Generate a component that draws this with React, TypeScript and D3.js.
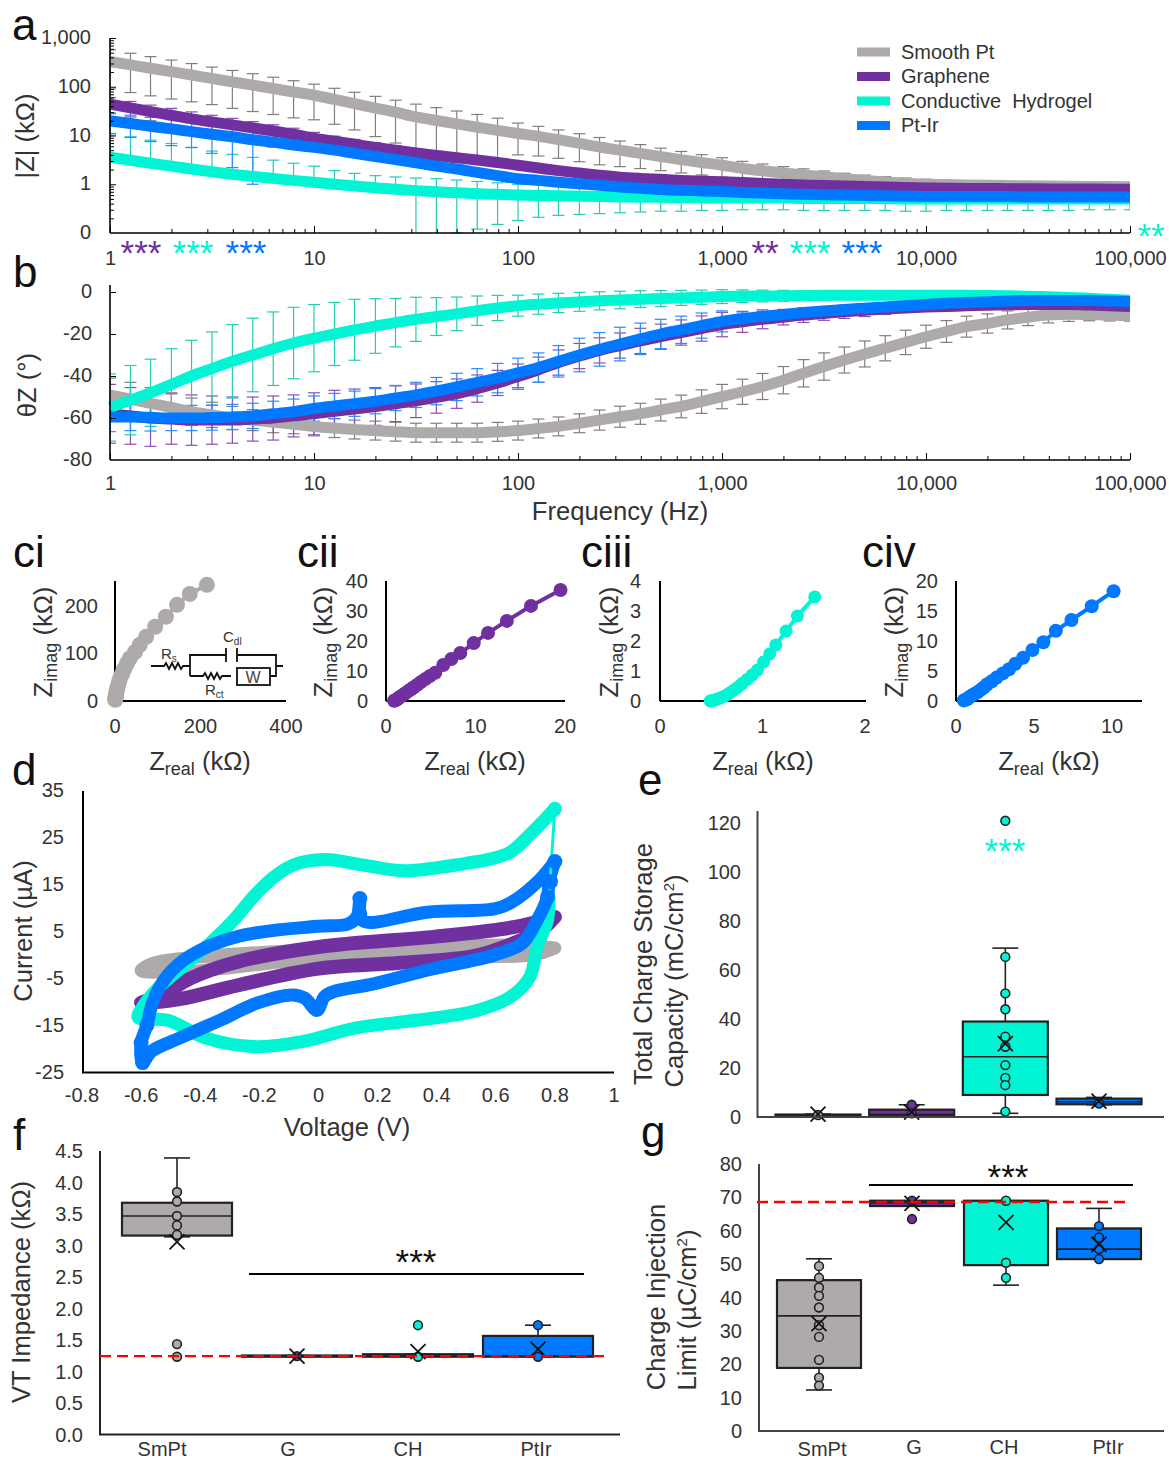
import { useEffect, useRef } from 'react';
import * as d3 from 'd3';

const GRAY = '#aeaaaa';
const PURPLE = '#7030a0';
const TEAL = '#00f5d4';
const BLUE = '#0078ff';
const TEXT = '#333333';
const FONT = "'Liberation Sans', Arial, sans-serif";
const TITLE = 25.6;

const LEGEND = ['Smooth Pt', 'Graphene', 'Conductive  Hydrogel', 'Pt-Ir'];
const CATS = ['SmPt', 'G', 'CH', 'PtIr'];
const COLORS = [GRAY, PURPLE, TEAL, BLUE];
const ERR_COLORS = ['#7f7f7f', '#8a4fb5', '#22cdb6', '#2a8cff'];

// frequency sweep, 10 points per decade
const FREQ = [
    1, 1.26, 1.58, 2, 2.51, 3.16, 3.98, 5.01, 6.31, 7.94, 10,
    12.6, 15.8, 20, 25.1, 31.6, 39.8, 50.1, 63.1, 79.4, 100,
    126, 158, 200, 251, 316, 398, 501, 631, 794, 1000,
    1260, 1580, 2000, 2510, 3160, 3980, 5010, 6310, 7940, 10000,
    12600, 15800, 20000, 25100, 31600, 39800, 50100, 63100, 79400, 100000,
];

// panel a: |Z| mean and SD in kOhm
const zGray = [
    330, 281, 240, 204, 174, 148, 126, 108, 92, 78, 67,
    55, 45, 36.5, 30, 24, 20.3, 17.3, 14.8, 12.7, 11,
    9.6, 8.2, 6.9, 5.8, 5, 4.3, 3.7, 3.2, 2.8, 2.45,
    2.1, 1.9, 1.7, 1.55, 1.42, 1.3, 1.2, 1.12, 1.05, 1,
    0.98, 0.96, 0.95, 0.94, 0.93, 0.92, 0.91, 0.9, 0.9, 0.89,
];
const zGraySd = [
    240, 205, 175, 148, 125, 105, 90, 77, 65, 55, 46,
    38, 32, 27, 23, 20, 17, 14.5, 12.2, 10, 7,
    5.8, 4.8, 4, 3.3, 2.7, 2.2, 1.8, 1.5, 1.25, 1.05,
    0.85, 0.7, 0.6, 0.52, 0.45, 0.38, 0.34, 0.31, 0.29, 0.27,
    0.24, 0.22, 0.2, 0.18, 0.16, 0.14, 0.12, 0.1, 0.08, 0.07,
];
const zPurple = [
    44, 37, 31, 26, 22, 19, 16.5, 14.3, 12.4, 10.6, 8.8,
    7.6, 6.6, 5.7, 5, 4.4, 3.9, 3.5, 3.15, 2.8, 2.45,
    2.15, 1.9, 1.7, 1.53, 1.4, 1.32, 1.26, 1.2, 1.16, 1.12,
    1.08, 1.04, 1, 0.97, 0.94, 0.92, 0.9, 0.88, 0.86, 0.84,
    0.83, 0.82, 0.82, 0.81, 0.81, 0.8, 0.8, 0.8, 0.79, 0.79,
];
const zPurpleSd = [
    16, 13, 11, 10, 8.5, 7, 6, 5, 4.2, 3.5, 2.8,
    2.1, 1.7, 1.4, 1.2, 1, 0.85, 0.7, 0.6, 0.5, 0.42,
    0.35, 0.3, 0.25, 0.2, 0.16, 0.13, 0.11, 0.09, 0.07, 0.06,
    0.05, 0.05, 0.05, 0.05, 0.05, 0.05, 0.05, 0.05, 0.05, 0.05,
    0.05, 0.05, 0.05, 0.05, 0.05, 0.05, 0.05, 0.05, 0.05, 0.05,
];
const zTeal = [
    3.6, 3.1, 2.7, 2.35, 2.05, 1.8, 1.6, 1.45, 1.32, 1.2, 1.1,
    1, 0.92, 0.85, 0.79, 0.74, 0.7, 0.67, 0.64, 0.62, 0.6,
    0.59, 0.58, 0.57, 0.56, 0.55, 0.54, 0.54, 0.53, 0.53, 0.52,
    0.52, 0.52, 0.52, 0.51, 0.51, 0.51, 0.51, 0.51, 0.5, 0.5,
    0.5, 0.5, 0.5, 0.5, 0.5, 0.5, 0.5, 0.5, 0.5, 0.5,
];
const zTealSd = [
    6.6, 6.3, 5.3, 4.5, 3.6, 3, 2.5, 2.1, 1.8, 1.5, 1.25,
    0.9, 0.75, 0.65, 0.62, 0.6, 0.6, 0.55, 0.5, 0.45, 0.4,
    0.38, 0.35, 0.33, 0.31, 0.29, 0.27, 0.26, 0.25, 0.24, 0.23,
    0.22, 0.22, 0.22, 0.22, 0.22, 0.22, 0.22, 0.22, 0.22, 0.22,
    0.21, 0.21, 0.21, 0.21, 0.21, 0.21, 0.21, 0.2, 0.2, 0.2,
];
// teal lower bars: none drawn below 31 Hz (0 = no bar)
const zTealSdLow = [
    0, 0, 0, 0, 0, 0, 0, 0, 0, 0, 0,
    0, 0, 0, 0, 0.66, 0.66, 0.57, 0.52, 0.47, 0.42,
    0.38, 0.35, 0.33, 0.31, 0.29, 0.27, 0.26, 0.25, 0.24, 0.23,
    0.22, 0.22, 0.22, 0.22, 0.22, 0.22, 0.22, 0.22, 0.22, 0.22,
    0.21, 0.21, 0.21, 0.21, 0.21, 0.21, 0.21, 0.2, 0.2, 0.2,
];
const zBlue = [
    20, 17.6, 15.5, 13.7, 12, 10.6, 9.4, 8.2, 7.3, 6.4, 5.7,
    5, 4.3, 3.7, 3.2, 2.75, 2.35, 2.05, 1.75, 1.5, 1.3,
    1.2, 1.1, 1.02, 0.95, 0.88, 0.83, 0.78, 0.75, 0.73, 0.71,
    0.68, 0.66, 0.64, 0.62, 0.61, 0.6, 0.59, 0.58, 0.57, 0.56,
    0.56, 0.56, 0.56, 0.56, 0.55, 0.55, 0.55, 0.55, 0.55, 0.55,
];
const zBlueSd = [
    9, 8.5, 8, 7.5, 6.3, 6.3, 7.2, 7.2, 1.5, 1.2, 1,
    0.8, 0.7, 0.6, 0.5, 0.4, 0.35, 0.3, 0.25, 0.2, 0.17,
    0.14, 0.12, 0.1, 0.08, 0.07, 0.06, 0.05, 0.05, 0.04, 0.04,
    0.03, 0.03, 0.03, 0.03, 0.03, 0.03, 0.03, 0.03, 0.03, 0.03,
    0.03, 0.03, 0.03, 0.03, 0.03, 0.03, 0.03, 0.03, 0.03, 0.03,
];

// panel b: phase mean and SD in degrees
const phGray = [
    -49, -51, -53, -55, -57, -58.5, -60, -61, -62, -63, -64,
    -64.8, -65.5, -66, -66.5, -67, -67, -67, -67, -66.6, -66,
    -65, -64, -62.5, -61, -59.4, -58, -56.2, -54.5, -52.2, -49.8,
    -47.5, -45, -42, -38.7, -35.5, -32.4, -29.5, -26.8, -24, -21.3,
    -18.8, -16.5, -15, -13.3, -12, -11, -10.6, -10.7, -11, -11.4,
];
const phGraySd = [
    8, 8, 7.5, 7, 6.5, 6, 5.5, 5, 5, 4.5, 4.5,
    4.5, 4.5, 4.5, 4.5, 4.5, 4.5, 4.5, 4.5, 4.5, 4.5,
    4.5, 4.5, 4.5, 4.8, 5, 5, 5.2, 5.4, 5.6, 5.8,
    6, 6.2, 6.5, 6.5, 6.5, 6.2, 6.2, 6, 5.8, 5.5,
    5.2, 5, 4.6, 4.3, 4, 3.7, 3.4, 3, 2.8, 2.5,
];
const phPurple = [
    -58, -59, -60, -60.5, -61, -61, -61, -60.5, -60, -59, -58,
    -56.8, -55.7, -54.5, -53.2, -51.8, -50.2, -48.4, -46, -43.3, -40.3,
    -37, -33.6, -30.5, -27.8, -25.5, -23.3, -21.3, -19.3, -17.4, -15.5,
    -14.2, -13, -12, -11, -10.2, -9.4, -8.7, -8.1, -7.6, -7.2,
    -6.9, -6.6, -6.3, -6.1, -6, -6, -6, -6.2, -6.5, -6.9,
];
const phPurpleSd = [
    14, 13.5, 13.5, 12, 12, 11.5, 11, 10.5, 10.5, 10, 10,
    10, 9.5, 9, 8.5, 8, 7.5, 7, 6.5, 6, 6,
    6, 6, 6, 6, 6, 6, 6, 6, 6, 5.8,
    5, 4.5, 3.7, 3.5, 3.3, 3.2, 3, 2.6, 2.2, 2,
    1.5, 1.5, 1.5, 1.5, 1.5, 1.5, 1.5, 1.5, 1.5, 1.5,
];
const phTeal = [
    -55, -51.5, -48, -44, -40, -36.5, -33, -30, -27, -24.3, -22,
    -20, -18, -16.2, -14.6, -13, -11.7, -10.4, -8.9, -7.6, -6.5,
    -5.8, -5.2, -4.7, -4.2, -3.8, -3.4, -3.1, -2.8, -2.5, -2.2,
    -2, -1.9, -1.8, -1.7, -1.6, -1.5, -1.5, -1.5, -1.5, -1.5,
    -1.5, -1.6, -1.7, -1.8, -2, -2.3, -2.6, -3, -3.5, -4,
];
const phTealSd = [
    16, 16.5, 16, 17, 17, 17.5, 17.5, 17.5, 17.5, 17, 16,
    15, 14.5, 13, 11.5, 10.5, 9, 8, 7, 6, 5,
    4.8, 4.6, 4.5, 4.3, 4.2, 4, 3.8, 3.6, 3.4, 3.3,
    3, 2.8, 2.6, 2.4, 2.2, 2, 1.8, 1.6, 1.5, 1.4,
    1, 1, 1, 1, 1, 1, 1, 1, 1, 1,
];
const phBlue = [
    -59.5, -59.5, -59.7, -60, -60, -59.8, -59.5, -59, -58, -57, -55.5,
    -54.3, -53.2, -52, -50.5, -49, -47.2, -45.2, -43, -41, -38.5,
    -36, -33, -30, -27.3, -24.8, -22.3, -20, -18, -16, -14,
    -12.7, -11.6, -10.7, -9.8, -9, -8.3, -7.7, -7.1, -6.5, -5.9,
    -5.4, -5, -4.6, -4.3, -4.1, -4, -4, -4.1, -4.3, -4.5,
];
const phBlueSd = [
    7, 6.5, 6.5, 6, 6, 6, 6, 6, 6, 6, 6,
    6, 6, 6, 6, 6, 6.5, 6.5, 6.5, 7, 7,
    7, 7.5, 8, 8, 8, 7.5, 7, 6.5, 6, 5,
    2.7, 2.4, 2.1, 1.9, 1.7, 1.5, 1.3, 1.2, 1.1, 1,
    1, 1, 1, 1, 1, 1, 1, 1, 1, 1,
];

// panels c: Nyquist [Zreal, Zimag] in kOhm
const nyqGray = [
    [215, 244], [175, 225], [145, 202], [119, 177], [94, 156], [73, 135], [58, 118], [47, 103], [35, 90],
    [28, 79], [22, 68], [17, 58], [13, 50], [10, 42], [8, 35], [6, 29], [4.6, 24], [3.5, 19], [2.7, 15],
    [2, 12], [1.5, 9], [1, 6], [0.8, 4], [0.5, 2.5],
];
const nyqPurple = [
    [19.5, 37], [16.2, 31.7], [13.5, 26.7], [11.4, 22.7], [9.8, 19.3], [8.3, 16], [7.3, 14], [6.4, 12], [5.5, 9.4],
    [4.9, 8.3], [4.4, 7.3], [3.9, 6.3], [3.5, 5.4], [3.1, 4.6], [2.8, 3.9], [2.5, 3.3], [2.2, 2.7], [2, 2.2],
    [1.8, 1.8], [1.6, 1.4], [1.4, 1], [1.3, 0.7], [1.2, 0.5], [1.1, 0.3], [1, 0.2], [0.9, 0.1],
];
const nyqTeal = [
    [1.51, 3.47], [1.34, 2.83], [1.23, 2.33], [1.13, 1.87], [1.07, 1.57], [1.01, 1.3], [0.95, 1.03], [0.9, 0.87],
    [0.85, 0.72], [0.8, 0.58], [0.76, 0.46], [0.72, 0.36], [0.68, 0.27], [0.65, 0.2], [0.62, 0.15], [0.59, 0.1],
    [0.56, 0.07], [0.54, 0.04], [0.52, 0.02], [0.5, 0.01], [0.49, 0],
];
const nyqBlue = [
    [10.1, 18.3], [8.7, 15.8], [7.4, 13.5], [6.4, 11.7], [5.6, 9.8], [4.9, 8.5], [4.3, 7.2], [3.8, 6.2], [3.4, 5.3],
    [3, 4.6], [2.6, 3.9], [2.3, 3.3], [2, 2.8], [1.8, 2.3], [1.6, 1.9], [1.4, 1.5], [1.2, 1.2], [1, 0.9],
    [0.9, 0.7], [0.8, 0.5], [0.7, 0.3], [0.6, 0.2], [0.5, 0.1],
];

// panel d: CV loops [V, uA]
const cvGray = [
    [0.8, 1.4], [0.66, 2], [0.3, 1.5], [0, 1], [-0.4, -0.5], [-0.55, -1.7], [-0.6, -3.4], [-0.47, -3.7],
    [-0.27, -2.6], [0, -0.8], [0.27, -0.5], [0.53, -0.5], [0.73, 0], [0.8, 1.4],
];
const cvPurple = [
    [0.8, 8], [0.66, 5.8], [0.395, 3.8], [0, 1.6], [-0.27, -1.5], [-0.43, -5], [-0.54, -9], [-0.6, -10.3],
    [-0.47, -9.5], [-0.27, -6.5], [0, -3], [0.27, -1.8], [0.53, -0.3], [0.66, 2.4], [0.75, 5], [0.8, 8],
];
const cvTeal = [
    [0.8, 31], [0.77, 29], [0.715, 25.5], [0.65, 21.8], [0.58, 20.3], [0.5, 19.4], [0.29, 17.8], [0.155, 19], [0.02, 20.2],
    [-0.087, 19], [-0.15, 16.5], [-0.22, 12.3], [-0.287, 7.3], [-0.367, 2.4], [-0.46, -2.6], [-0.54, -7],
    [-0.595, -11.2], [-0.61, -13.4], [-0.51, -14], [-0.38, -17.8], [-0.22, -19.6], [-0.06, -18.6], [0.128, -15.6],
    [0.33, -14], [0.53, -12], [0.65, -9], [0.715, -4.8], [0.74, 1.7], [0.775, 7.3], [0.78, 12.3],
];
const cvBlue = [
    [0.8, 19.8], [0.75, 16], [0.65, 11], [0.595, 9.7], [0.368, 9], [0.18, 6.8], [0.15, 7.2], [0.14, 9], [0.14, 11.9],
    [0.13, 8], [0.1, 6.5], [-0.005, 6], [-0.27, 3.9], [-0.43, -0.1], [-0.51, -4.4], [-0.56, -10], [-0.58, -15],
    [-0.6, -18.8], [-0.595, -23], [-0.565, -20.6], [-0.47, -17.8], [-0.33, -13.9], [-0.206, -10.3], [-0.087, -8.6],
    [-0.046, -9.3], [-0.005, -11.9], [0.02, -9], [0.047, -8], [0.19, -6.2], [0.37, -3.3], [0.595, -0.1], [0.69, 2.4],
    [0.74, 7.3], [0.775, 12.2], [0.78, 15.5], [0.8, 19.8],
];
const cvBlueDots = [[0.14, 11.9], [0.14, 8.6], [-0.6, -18.8], [-0.595, -23], [-0.58, -15], [0.8, 19.8], [0.785, 15.5], [0.775, 12.2], [-0.005, -11.4]];

// panel e: charge storage capacity
const eLow = [0.3, 0.5, 1.5, 5];
const eQ1 = [0.4, 0.6, 9, 5.2];
const eMed = [0.6, 1, 24.6, 6.2];
const eQ3 = [1, 3, 39, 7.5];
const eHigh = [1.2, 5, 69, 8];
const eMean = [1.2, 2, 30, 6.5];
const ePoints = [
    [0.8],
    [5, 1.5],
    [121, 65.4, 50.5, 44, 32.8, 28.7, 21.2, 16, 13, 2.2],
    [5.5],
];

// panel f: VT impedance
const fLow = [3.14, 1.24, 1.24, 1.24];
const fQ1 = [3.16, 1.24, 1.24, 1.24];
const fMed = [3.47, 1.25, 1.26, 1.25];
const fQ3 = [3.68, 1.26, 1.28, 1.57];
const fHigh = [4.39, 1.26, 1.28, 1.74];
const fMean = [3.06, 1.25, 1.32, 1.36];
const fPoints = [
    [3.85, 3.7, 3.47, 3.32, 3.17, 1.44, 1.24],
    [1.25],
    [1.74, 1.24],
    [1.74, 1.24],
];
const fLimit = 1.25;

// panel g: charge injection limit
const gLow = [12.3, 67.4, 43.7, 51.5];
const gQ1 = [18.9, 67.4, 49.7, 51.5];
const gMed = [34.5, 68.4, 69, 54.5];
const gQ3 = [45.2, 69, 69, 60.7];
const gHigh = [51.6, 69, 69, 66.7];
const gMean = [32.2, 68.2, 62.5, 55.9];
const gPoints = [
    [49.4, 45.9, 43, 40.5, 37, 31.7, 28.2, 21.3, 16, 13.6],
    [69, 63.5],
    [69, 50.4, 45.9],
    [61.4, 58, 54.5, 51.5],
];
const gLimit = 68.6;

function txt(g, x, y, s, size, opts: any = {}) {
    const t = g.append('text')
        .attr('x', x).attr('y', y)
        .attr('font-size', size)
        .attr('fill', opts.fill || TEXT)
        .attr('text-anchor', opts.anchor || 'start')
        .text(s);
    if (opts.rotate) t.attr('transform', `rotate(-90 ${x} ${y})`);
    return t;
}

// Z with subscript plus the (kOhm) unit
function zTitle(g, x, y, sub, rotate) {
    const t = g.append('text')
        .attr('x', x).attr('y', y)
        .attr('font-size', TITLE).attr('fill', TEXT)
        .attr('text-anchor', 'middle');
    if (rotate) t.attr('transform', `rotate(-90 ${x} ${y})`);
    t.append('tspan').text('Z');
    t.append('tspan').attr('font-size', 18).attr('dy', 5).text(sub);
    t.append('tspan').attr('dy', -5).text(' (kΩ)');
}

function stars(g, x, y, s, fill) {
    txt(g, x, y, s, 35, { fill, anchor: 'middle' });
}

function cleanTicks(sel, color = '#000') {
    sel.selectAll('.domain').remove();
    sel.selectAll('line').attr('stroke', color).attr('stroke-width', 1);
    sel.selectAll('text').attr('font-size', 20).attr('fill', TEXT).attr('font-family', FONT);
}

function freqAxes(g, x, y0, labelGap) {
    const decades = [1, 10, 100, 1000, 10000, 100000];
    const minors = decades.slice(0, 5).flatMap(d => [2, 3, 4, 5, 6, 7, 8, 9].map(m => m * d));
    g.append('line').attr('x1', x(1)).attr('x2', x(100000)).attr('y1', y0).attr('y2', y0)
        .attr('stroke', '#000').attr('stroke-width', 1.6);
    g.append('g').attr('transform', `translate(0,${y0})`)
        .call(d3.axisTop(x).tickValues(minors).tickSize(4).tickFormat(() => ''))
        .call(cleanTicks);
    g.append('g').attr('transform', `translate(0,${y0})`)
        .call(d3.axisTop(x).tickValues(decades).tickSize(7).tickFormat(() => ''))
        .call(cleanTicks);
    g.append('g').attr('transform', `translate(0,${y0})`)
        .call(d3.axisBottom(x).tickValues(decades).tickSize(0).tickPadding(labelGap).tickFormat(d3.format(',')))
        .call(cleanTicks);
}

function freqSeries(g, x, y, means, sds, sdsLow, bottom, clipId) {
    const line = d3.line().x((_, i) => x(FREQ[i])).y(d => y(d)).curve(d3.curveMonotoneX);
    const capsG = g.append('g').attr('clip-path', `url(#${clipId})`);
    means.forEach((m, s) => {
        m.forEach((v, i) => {
            const px = x(FREQ[i]);
            const hi = v + sds[s][i];
            const sdLow = sdsLow[s][i];
            const lo = v - sdLow;
            const clipped = lo <= bottom;
            const y1 = y(hi);
            const y2 = sdLow === 0 ? y(v) : clipped ? y(bottom) : y(lo);
            const stroke = ERR_COLORS[s];
            capsG.append('line').attr('x1', px).attr('x2', px).attr('y1', y1).attr('y2', y2)
                .attr('stroke', stroke).attr('stroke-width', 1.2);
            capsG.append('line').attr('x1', px - 6).attr('x2', px + 6).attr('y1', y1).attr('y2', y1)
                .attr('stroke', stroke).attr('stroke-width', 1.2);
            if (!clipped && sdLow > 0) {
                capsG.append('line').attr('x1', px - 6).attr('x2', px + 6).attr('y1', y2).attr('y2', y2)
                    .attr('stroke', stroke).attr('stroke-width', 1.2);
            }
        });
    });
    means.forEach((m, s) => {
        g.append('path').attr('d', line(m)).attr('fill', 'none')
            .attr('stroke', COLORS[s]).attr('stroke-width', 11);
    });
}

function nyquist(g, data, color, opts) {
    const { xr, yr, xDom, yDom, xTicks, yTicks, xEnd, yLabelX, r } = opts;
    const x = d3.scaleLinear().domain(xDom).range(xr);
    const y = d3.scaleLinear().domain(yDom).range(yr);
    g.append('line').attr('x1', xr[0]).attr('x2', xEnd).attr('y1', yr[0]).attr('y2', yr[0])
        .attr('stroke', '#000').attr('stroke-width', 2);
    g.append('line').attr('x1', xr[0]).attr('x2', xr[0]).attr('y1', yr[0]).attr('y2', 581)
        .attr('stroke', '#000').attr('stroke-width', 2);
    xTicks.forEach(t => txt(g, x(t), 733, String(t), 20, { anchor: 'middle' }));
    yTicks.forEach(t => txt(g, yLabelX, y(t) + 7, String(t), 20, { anchor: 'end' }));
    const line = d3.line().x(d => x(d[0])).y(d => y(d[1]));
    g.append('path').attr('d', line(data)).attr('fill', 'none').attr('stroke', color).attr('stroke-width', 4);
    g.selectAll(null).data(data).join('circle')
        .attr('cx', d => x(d[0])).attr('cy', d => y(d[1])).attr('r', r).attr('fill', color);
}

function circuit(g) {
    const s = g.append('g').attr('fill', 'none').attr('stroke', '#111').attr('stroke-width', 1.8);
    s.append('path').attr('d', 'M151 666h13l2 -3 3 6 3 -6 3 6 3 -6 3 6 2 -3h7');
    s.append('path').attr('d', 'M190 676V655H226M237 655H276V676H270M190 676H203l2 -3 3 6 3 -6 3 6 3 -6 3 6 2 -3h9M276 666h7');
    s.append('path').attr('d', 'M226 648V662M237 648V662');
    s.append('rect').attr('x', 237).attr('y', 668).attr('width', 33).attr('height', 17);
    txt(g, 253, 683, 'W', 16, { anchor: 'middle', fill: '#444' });
    const rs = txt(g, 161, 659, 'R', 15, { fill: '#333' });
    rs.append('tspan').attr('font-size', 10).attr('dy', 3).text('s');
    const cdl = txt(g, 223, 642, 'C', 15, { fill: '#333' });
    cdl.append('tspan').attr('font-size', 10).attr('dy', 3).text('dl');
    const rct = txt(g, 205, 695, 'R', 15, { fill: '#333' });
    rct.append('tspan').attr('font-size', 10).attr('dy', 3).text('ct');
}

function boxPanel(g, d, o) {
    const { x, y, boxW } = o;
    d.q1.forEach((_, i) => {
        const cx = x[i];
        const hw = boxW / 2;
        const stroke = '#222';
        // whiskers first, box above
        g.append('line').attr('x1', cx).attr('x2', cx).attr('y1', y(d.low[i])).attr('y2', y(d.high[i]))
            .attr('stroke', stroke).attr('stroke-width', 1.6);
        [d.low[i], d.high[i]].forEach(v => {
            g.append('line').attr('x1', cx - 13).attr('x2', cx + 13).attr('y1', y(v)).attr('y2', y(v))
                .attr('stroke', stroke).attr('stroke-width', 1.6);
        });
        g.append('rect').attr('x', cx - hw).attr('y', y(d.q3[i]))
            .attr('width', boxW).attr('height', Math.max(0.5, y(d.q1[i]) - y(d.q3[i])))
            .attr('fill', COLORS[i]).attr('stroke', stroke).attr('stroke-width', 2.2);
        g.append('line').attr('x1', cx - hw).attr('x2', cx + hw).attr('y1', y(d.med[i])).attr('y2', y(d.med[i]))
            .attr('stroke', stroke).attr('stroke-width', 1.6);
        d.points[i].forEach(v => {
            g.append('circle').attr('cx', cx).attr('cy', y(v)).attr('r', 4.4)
                .attr('fill', COLORS[i]).attr('stroke', stroke).attr('stroke-width', 1.6);
        });
        const m = y(d.mean[i]);
        g.append('path').attr('d', `M${cx - 7.5} ${m - 7.5}L${cx + 7.5} ${m + 7.5}M${cx - 7.5} ${m + 7.5}L${cx + 7.5} ${m - 7.5}`)
            .attr('stroke', '#111').attr('stroke-width', 1.7).attr('fill', 'none');
    });
}

export default function App() {
    const svgRef = useRef(null);

    useEffect(() => {
        const svg = d3.select(svgRef.current);
        svg.selectAll('*').remove();
        const root = svg.append('g');

        // panel letters
        [['a', 12, 40], ['b', 13, 287], ['ci', 13, 567], ['cii', 297, 567], ['ciii', 581, 567], ['civ', 862, 567],
            ['d', 12, 785], ['e', 638, 795], ['f', 13, 1150], ['g', 641, 1147]].forEach(([s, x, y]) => {
            txt(root, x, y, s, 44, { fill: '#111' });
        });

        const defs = svg.append('defs');
        defs.append('clipPath').attr('id', 'freq-clip').append('rect')
            .attr('x', 110).attr('y', 0).attr('width', 1020).attr('height', 500);

        // a: impedance magnitude
        const x = d3.scaleLog().domain([1, 100000]).range([110, 1130]);
        const yA = d3.scaleLog().domain([0.1, 1000]).range([233, 38]);
        const a = root.append('g');
        freqSeries(a, x, yA, [zGray, zPurple, zTeal, zBlue], [zGraySd, zPurpleSd, zTealSd, zBlueSd],
            [zGraySd, zPurpleSd, zTealSdLow, zBlueSd], 0.1, 'freq-clip');
        freqAxes(a, x, 233, 18);
        a.append('line').attr('x1', 110).attr('x2', 110).attr('y1', 38).attr('y2', 233)
            .attr('stroke', '#000').attr('stroke-width', 1.6);
        const aMinor = [0.1, 1, 10, 100].flatMap(d => [2, 3, 4, 5, 6, 7, 8, 9].map(m => m * d));
        a.append('g').attr('transform', 'translate(110,0)')
            .call(d3.axisRight(yA).tickValues(aMinor).tickSize(4).tickFormat(() => ''))
            .call(cleanTicks);
        a.append('g').attr('transform', 'translate(110,0)')
            .call(d3.axisRight(yA).tickValues([1, 10, 100, 1000]).tickSize(6).tickFormat(() => ''))
            .call(cleanTicks);
        [1000, 100, 10, 1, 0.1].forEach(t => txt(a, 91, yA(t) + 6, t < 1 ? '0' : d3.format(',')(t), 20, { anchor: 'end' }));
        txt(a, 34, 136, '|Z| (kΩ)', TITLE, { anchor: 'middle', rotate: true });
        stars(a, 141, 265, '***', PURPLE);
        stars(a, 193, 265, '***', TEAL);
        stars(a, 246, 265, '***', BLUE);
        stars(a, 765, 265, '**', PURPLE);
        stars(a, 810, 265, '***', TEAL);
        stars(a, 862, 265, '***', BLUE);
        stars(a, 1151, 248, '**', TEAL);

        // legend
        LEGEND.forEach((s, i) => {
            const ly = 52 + i * 24.5;
            a.append('line').attr('x1', 857).attr('x2', 890).attr('y1', ly).attr('y2', ly)
                .attr('stroke', COLORS[i]).attr('stroke-width', 9);
            txt(a, 901, ly + 6.5, s, 20).style('white-space', 'pre');
        });

        // b: phase
        const yB = d3.scaleLinear().domain([-80, 3]).range([460, 285.7]);
        const b = root.append('g');
        const phSd = [phGraySd, phPurpleSd, phTealSd, phBlueSd];
        freqSeries(b, x, yB, [phGray, phPurple, phTeal, phBlue], phSd, phSd, -80, 'freq-clip');
        freqAxes(b, x, 460, 16);
        b.append('line').attr('x1', 110).attr('x2', 110).attr('y1', 285).attr('y2', 460)
            .attr('stroke', '#000').attr('stroke-width', 1.6);
        b.append('g').attr('transform', 'translate(110,0)')
            .call(d3.axisRight(yB).tickValues([0, -20, -40, -60]).tickSize(6).tickFormat(() => ''))
            .call(cleanTicks);
        [0, -20, -40, -60, -80].forEach(t => txt(b, 92, yB(t) + 6, String(t), 20, { anchor: 'end' }));
        txt(b, 36, 385, 'θZ (°)', TITLE, { anchor: 'middle', rotate: true });
        txt(b, 620, 520, 'Frequency (Hz)', TITLE, { anchor: 'middle' });

        // c: Nyquist plots
        const c = root.append('g');
        nyquist(c, nyqGray, GRAY, { xr: [115, 286], yr: [701, 582], xDom: [0, 400], yDom: [0, 250], xTicks: [0, 200, 400], yTicks: [0, 100, 200], xEnd: 286, yLabelX: 98, r: 8 });
        nyquist(c, nyqPurple, PURPLE, { xr: [386, 565], yr: [701, 581], xDom: [0, 20], yDom: [0, 40], xTicks: [0, 10, 20], yTicks: [0, 10, 20, 30, 40], xEnd: 565, yLabelX: 368, r: 7 });
        nyquist(c, nyqTeal, TEAL, { xr: [660, 865], yr: [701, 581], xDom: [0, 2], yDom: [0, 4], xTicks: [0, 1, 2], yTicks: [0, 1, 2, 3, 4], xEnd: 866, yLabelX: 641, r: 6.5 });
        nyquist(c, nyqBlue, BLUE, { xr: [956, 1112], yr: [701, 581], xDom: [0, 10], yDom: [0, 20], xTicks: [0, 5, 10], yTicks: [0, 5, 10, 15, 20], xEnd: 1142, yLabelX: 938, r: 7 });
        circuit(c);
        zTitle(c, 52, 642, 'imag', true);
        zTitle(c, 332, 642, 'imag', true);
        zTitle(c, 618, 642, 'imag', true);
        zTitle(c, 903, 642, 'imag', true);
        zTitle(c, 200, 770, 'real', false);
        zTitle(c, 475, 770, 'real', false);
        zTitle(c, 763, 770, 'real', false);
        zTitle(c, 1049, 770, 'real', false);

        // d: cyclic voltammetry
        const xD = d3.scaleLinear().domain([-0.8, 1]).range([82, 614]);
        const yD = d3.scaleLinear().domain([-25, 35]).range([1072, 790]);
        const d = root.append('g');
        const cvLine = d3.line().x(p => xD(p[0])).y(p => yD(p[1])).curve(d3.curveCatmullRom.alpha(0.5));
        [cvGray, cvPurple, cvTeal, cvBlue].forEach((loop, i) => {
            d.append('path').attr('d', cvLine(loop)).attr('fill', 'none')
                .attr('stroke', COLORS[i]).attr('stroke-width', i === 1 ? 14 : 13)
                .attr('stroke-linejoin', 'round').attr('stroke-linecap', 'round');
        });
        // teal jump back up to the vertex
        d.append('line').attr('x1', xD(0.78)).attr('x2', xD(0.8)).attr('y1', yD(12.3)).attr('y2', yD(31))
            .attr('stroke', TEAL).attr('stroke-width', 3);
        d.append('circle').attr('cx', xD(0.8)).attr('cy', yD(31)).attr('r', 7).attr('fill', TEAL);
        cvBlueDots.forEach(p => d.append('circle').attr('cx', xD(p[0])).attr('cy', yD(p[1])).attr('r', 7.5).attr('fill', BLUE));
        d.append('path').attr('d', 'M83 791V1072.5H614').attr('fill', 'none').attr('stroke', '#000').attr('stroke-width', 2);
        d3.range(-8, 11, 2).map(t => t / 10).forEach(t => txt(d, xD(t), 1102, String(t), 20, { anchor: 'middle' }));
        d3.range(-25, 36, 10).forEach(t => txt(d, 64, yD(t) + 7, String(t), 20, { anchor: 'end' }));
        txt(d, 32, 931, 'Current (µA)', TITLE, { anchor: 'middle', rotate: true });
        txt(d, 347, 1136, 'Voltage (V)', TITLE, { anchor: 'middle' });

        // e: charge storage capacity
        const e = root.append('g');
        const yE = d3.scaleLinear().domain([0, 125]).range([1117, 811]);
        const xE = d3.scalePoint().domain(CATS).range([818, 1099]);
        boxPanel(e, { low: eLow, q1: eQ1, med: eMed, q3: eQ3, high: eHigh, mean: eMean, points: ePoints },
            { x: CATS.map(k => xE(k)), y: yE, boxW: 85 });
        e.append('path').attr('d', 'M757.5 811V1117H1164').attr('fill', 'none').attr('stroke', '#444').attr('stroke-width', 2);
        d3.range(0, 121, 20).forEach(t => txt(e, 741, yE(t) + 7, String(t), 20, { anchor: 'end' }));
        txt(e, 652, 964, 'Total Charge Storage', TITLE, { anchor: 'middle', rotate: true });
        const eCap = txt(e, 683, 981, 'Capacity (mC/cm', TITLE, { anchor: 'middle', rotate: true });
        eCap.append('tspan').attr('font-size', 15).attr('dy', -9).text('2');
        eCap.append('tspan').attr('dy', 9).text(')');
        stars(e, 1005, 863, '***', TEAL);

        // f: VT impedance
        const f = root.append('g');
        const yF = d3.scaleLinear().domain([0, 4.5]).range([1435, 1151]);
        boxPanel(f, { low: fLow, q1: fQ1, med: fMed, q3: fQ3, high: fHigh, mean: fMean, points: fPoints },
            { x: [177, 297, 418, 538], y: yF, boxW: 110 });
        f.append('path').attr('d', 'M100 1151V1434.5H620').attr('fill', 'none').attr('stroke', '#222').attr('stroke-width', 2);
        d3.range(0, 4.6, 0.5).forEach(t => txt(f, 83, yF(t) + 7, t.toFixed(1), 20, { anchor: 'end' }));
        f.append('line').attr('x1', 100).attr('x2', 604).attr('y1', yF(fLimit)).attr('y2', yF(fLimit))
            .attr('stroke', '#ff0000').attr('stroke-width', 2.4).attr('stroke-dasharray', '11 6');
        f.append('line').attr('x1', 249).attr('x2', 584).attr('y1', 1274).attr('y2', 1274)
            .attr('stroke', '#000').attr('stroke-width', 2);
        stars(f, 416, 1274, '***', '#111');
        [162, 288, 408, 536].forEach((lx, i) => txt(f, lx, 1456, CATS[i], 20, { anchor: 'middle' }));
        txt(f, 30, 1292, 'VT Impedance (kΩ)', TITLE, { anchor: 'middle', rotate: true });

        // g: charge injection limit
        const gg = root.append('g');
        const yG = d3.scaleLinear().domain([0, 80]).range([1431, 1164]);
        boxPanel(gg, { low: gLow, q1: gQ1, med: gMed, q3: gQ3, high: gHigh, mean: gMean, points: gPoints },
            { x: [819, 912, 1006, 1099], y: yG, boxW: 84 });
        gg.append('path').attr('d', 'M759 1164V1431H1164').attr('fill', 'none').attr('stroke', '#444').attr('stroke-width', 2);
        d3.range(0, 81, 10).forEach(t => txt(gg, 742, yG(t) + 7, String(t), 20, { anchor: 'end' }));
        gg.append('line').attr('x1', 757).attr('x2', 1130).attr('y1', yG(gLimit)).attr('y2', yG(gLimit))
            .attr('stroke', '#ff0000').attr('stroke-width', 2.4).attr('stroke-dasharray', '11 6');
        gg.append('line').attr('x1', 869).attr('x2', 1133).attr('y1', 1185).attr('y2', 1185)
            .attr('stroke', '#000').attr('stroke-width', 2);
        stars(gg, 1008, 1189, '***', '#111');
        [[822, 1456], [914, 1454], [1004, 1454], [1108, 1454]].forEach((p, i) => txt(gg, p[0], p[1], CATS[i], 20, { anchor: 'middle' }));
        txt(gg, 665, 1297, 'Charge Injection', TITLE, { anchor: 'middle', rotate: true });
        const gCap = txt(gg, 696, 1310, 'Limit (µC/cm', TITLE, { anchor: 'middle', rotate: true });
        gCap.append('tspan').attr('font-size', 15).attr('dy', -9).text('2');
        gCap.append('tspan').attr('dy', 9).text(')');
    }, []);

    return (
        <svg ref={svgRef} width={1169} height={1459}
            style={{ position: 'absolute', left: 0, top: 0, background: '#fff', fontFamily: FONT }} />
    );
}
